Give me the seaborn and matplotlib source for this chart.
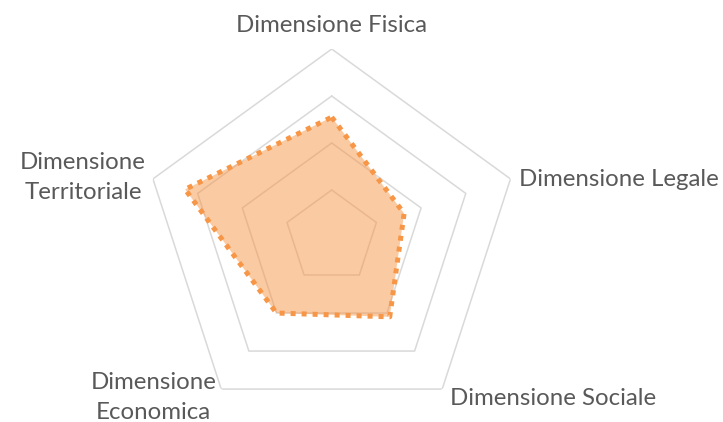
import numpy as np
import pandas as pd
import matplotlib.pyplot as plt
import seaborn as sns

# dati
dimensioni = ["Dimensione Fisica", "Dimensione Legale", "Dimensione Sociale",
              "Dimensione\nEconomica", "Dimensione\nTerritoriale"]
valori = [2.55, 1.62, 2.10, 2.00, 3.28]
livelli = [1, 2, 3, 4]

sns.set_style("white")
plt.rcParams['font.family'] = ['Lato', 'DejaVu Sans']

n = len(dimensioni)
theta = np.linspace(0, 2 * np.pi, n, endpoint=False)
theta_c = np.append(theta, theta[0] + 2 * np.pi)

df = pd.DataFrame({"theta": theta_c, "valore": valori + valori[:1]})

fig = plt.figure(figsize=(7.23, 4.22), dpi=100)
ax = fig.add_axes([0.1988, -0.0071, 0.520, 0.891], projection='polar')
ax.set_theta_zero_location('N')
ax.set_theta_direction(-1)

# griglia pentagonale
for lev in livelli:
    ax.plot(theta_c, [lev] * (n + 1), color='#D9D9D9', lw=1.1, zorder=1)

ax.fill(df["theta"], df["valore"], color='#F79646', alpha=0.5, lw=0, zorder=2)
sns.lineplot(
    data=df,
    x="theta",
    y="valore",
    sort=False,
    ax=ax,
    color='#F79646',
    lw=3.6,
    linestyle=(0, (1, 1.2)),
    zorder=3
)

ax.set_ylim(0, max(livelli))
ax.grid(False)
ax.spines['polar'].set_visible(False)
ax.set_xticks([])
ax.set_yticks([])
ax.set_xlabel('')
ax.set_ylabel('')
ax.patch.set_visible(False)

# etichette (offset in pixel dal vertice esterno)
offsets = [(0, 17, 'center'), (9, -7, 'left'), (8, -16, 'left'),
           (-68, -30, 'center'), (-70, -20, 'center')]
for t, lab, (dx, dy, ha) in zip(theta, dimensioni, offsets):
    ax.annotate(lab, xy=(t, max(livelli)), xytext=(dx, dy),
                textcoords='offset pixels', ha=ha, va='baseline',
                multialignment='center', fontsize=17.3, color='#595959',
                linespacing=1.55, annotation_clip=False)

plt.savefig("out.png", dpi=100)
